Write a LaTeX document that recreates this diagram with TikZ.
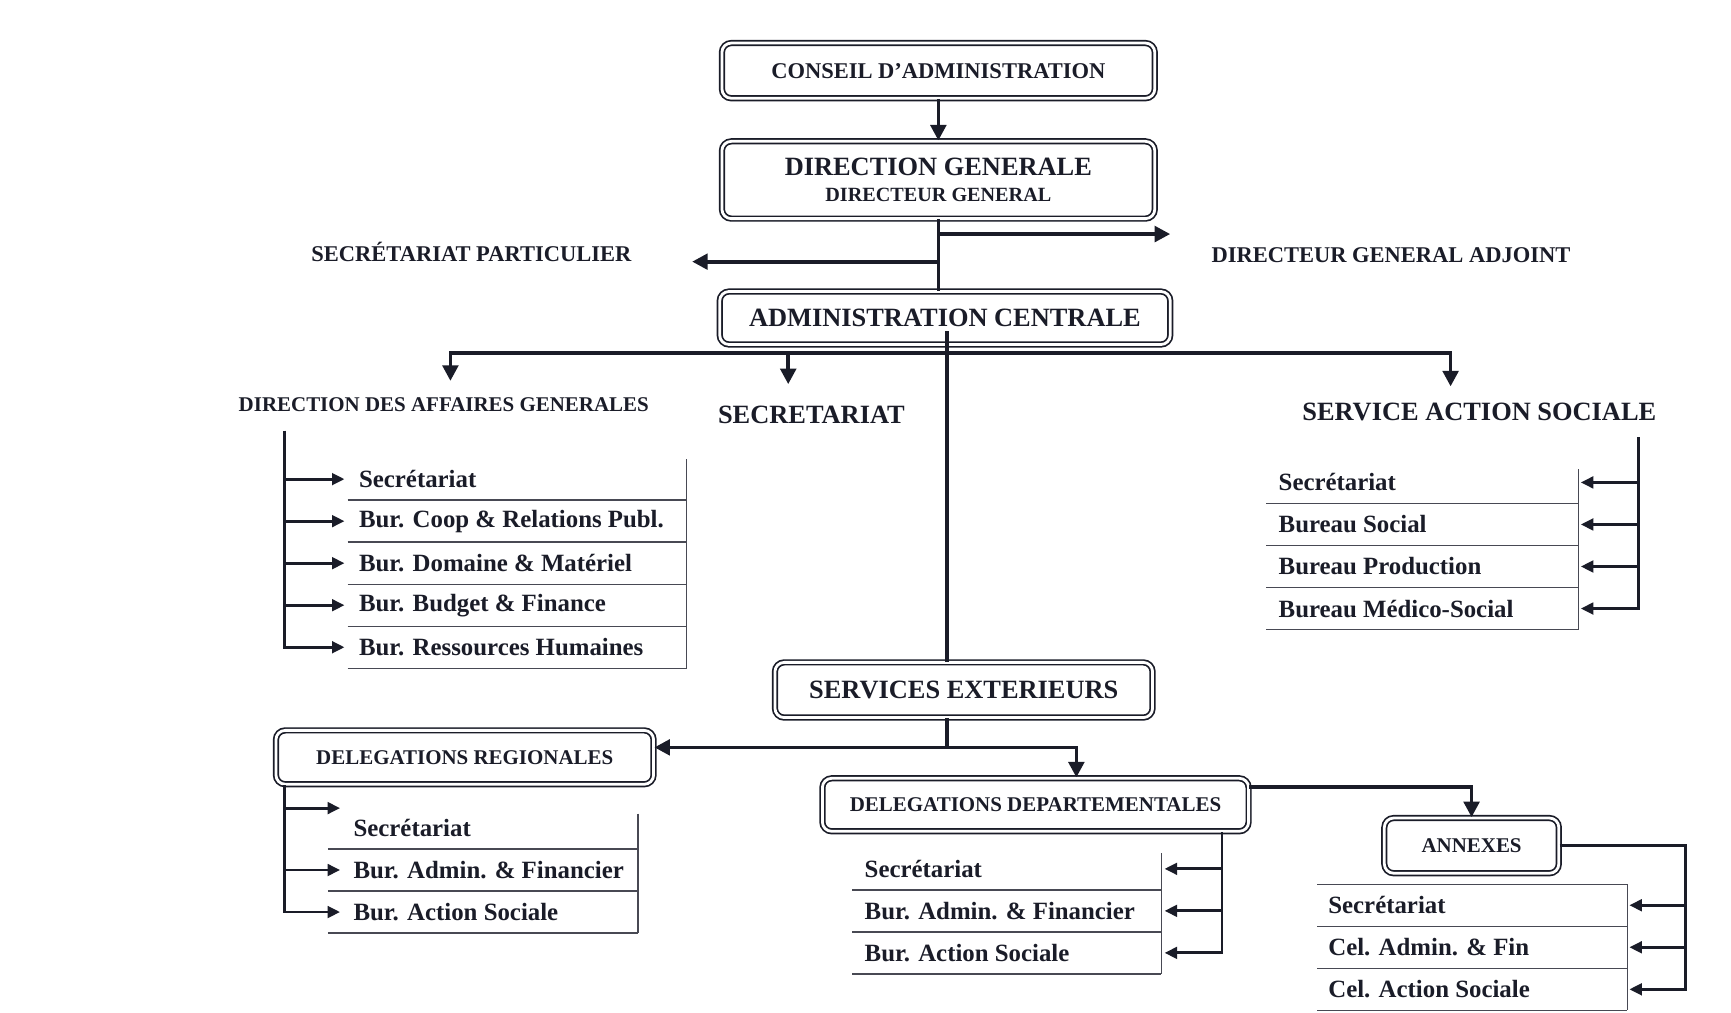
\documentclass[tikz,border=0pt]{standalone}
\usepackage{fontspec}
\setmainfont{Liberation Serif}
\usepackage{xcolor}
\usetikzlibrary{arrows.meta,positioning}
\definecolor{ink}{RGB}{26,28,40}

\begin{document}
\begin{tikzpicture}[x=0.025cm,y=-0.025cm,node distance=2.475cm,
  >={Triangle[length=10pt,width=10pt]},
  box/.style={draw=ink,double,double distance=1.8pt,line width=1.1pt,rounded corners=6pt,align=center,text=ink},
  conn/.style={draw=ink,line width=2.4pt},
  lst/.style={draw=ink,line width=1.8pt,>={Triangle[length=8pt,width=7.5pt]}},
  rule/.style={draw=ink!80,line width=0.9pt},
  tbig/.style={font=\bfseries\fontsize{17pt}{20pt}\selectfont,text=ink},
  tmid/.style={font=\bfseries\fontsize{14.5pt}{17pt}\selectfont,text=ink},
  tsmall/.style={font=\bfseries\fontsize{13.5pt}{16pt}\selectfont,text=ink},
  bureau/.style={font=\bfseries\fontsize{16pt}{19pt}\selectfont,text=ink,anchor=west,inner sep=0pt,minimum height=0.9375cm},
  under/.style={below=0pt of #1.south west,anchor=north west}]
\path[use as bounding box,fill=white] (0,0) rectangle (1568,917);

\node[box,tmid,minimum width=9.8cm,minimum height=1.25cm] (cons) at (850,64) {CONSEIL D'ADMINISTRATION};
\node[box,minimum width=9.8cm,minimum height=1.75cm] (dg) [below of=cons] {{\bfseries\fontsize{17pt}{18pt}\selectfont DIRECTION GENERALE}\\[5pt]{\bfseries\fontsize{13pt}{18pt}\selectfont DIRECTEUR GENERAL}};
\node[box,tbig,minimum width=10.2cm,minimum height=1.2cm] (ac) [below of=dg,yshift=-0.65cm,xshift=0.15cm] {ADMINISTRATION CENTRALE};
\node[box,tbig,minimum width=8.55cm,minimum height=1.25cm] (se) at (873,625) {SERVICES EXTERIEURS};
\node[box,tsmall,minimum width=8.55cm,minimum height=1.22cm] (dr) at (421,686) {DELEGATIONS REGIONALES};
\node[box,tsmall,minimum width=9.65cm,minimum height=1.2cm] (dd) at (938,729) {DELEGATIONS DEPARTEMENTALES};
\node[box,tsmall,minimum width=3.95cm,minimum height=1.25cm] (ann) at (1333,766) {ANNEXES};

\node[tmid] (sp) at (427,228) {SECRÉTARIAT PARTICULIER};
\node[tmid] (dga) at (1260,231) {DIRECTEUR GENERAL ADJOINT};
\node[tsmall] (dag) at (402,367) {DIRECTION DES AFFAIRES GENERALES};
\node[tbig] (sec) at (735,376) {SECRETARIAT};
\node[tbig] (sas) at (1340,373) {SERVICE ACTION SOCIALE};

\coordinate (tipdga) at (1060,212);
\coordinate (tipsp) at (627,237);
\coordinate (acin) at (858,300);
\coordinate (bar) at (858,320);
\coordinate (tipdag) at (408,345);
\coordinate (tipsec) at (714,348);
\coordinate (tipsas) at (1314,350);
\coordinate (jse) at (858,677);

\draw[conn,->] (cons) -- (dg);
\draw[conn] (dg.south) -- (dg.south |- ac.north);
\draw[conn,->] (dg.south |- tipdga) -- (tipdga);
\draw[conn,->] (dg.south |- tipsp) -- (tipsp);
\draw[conn] (acin) -- (acin |- se.north);
\draw[conn,->] (bar) -| (tipdag);
\draw[conn,->] (bar) -| (tipsec);
\draw[conn,->] (bar) -| (tipsas);
\draw[conn] (se.south -| jse) -- (jse);
\draw[conn,->] (jse) -- (jse -| dr.east);
\draw[conn,->] (jse) -| ([xshift=0.925cm]dd.north);
\draw[conn,->] ([yshift=0.4cm]dd.east) -| (ann.north);

\node[bureau] (d1) at (325,434) {Secrétariat};
\node[bureau,under=d1] (d2) {Bur. Coop \& Relations Publ.};
\node[bureau,under=d2] (d3) {Bur. Domaine \& Matériel};
\node[bureau,under=d3] (d4) {Bur. Budget \& Finance};
\node[bureau,under=d4] (d5) {Bur. Ressources Humaines};
\coordinate (dagS) at (258,390);
\coordinate (dagT) at (312,0);
\coordinate (dagL) at (315,0);
\coordinate (dagR) at (622,416);
\draw[lst,->] (dagS) |- (dagT |- d5);
\draw[lst,->] (dagS |- d1) -- (dagT |- d1);
\draw[lst,->] (dagS |- d2) -- (dagT |- d2);
\draw[lst,->] (dagS |- d3) -- (dagT |- d3);
\draw[lst,->] (dagS |- d4) -- (dagT |- d4);
\draw[rule] (dagR) -- (dagR |- d5.south);
\draw[rule] (dagL |- d1.south) -- (dagR |- d1.south);
\draw[rule] (dagL |- d2.south) -- (dagR |- d2.south);
\draw[rule] (dagL |- d3.south) -- (dagR |- d3.south);
\draw[rule] (dagL |- d4.south) -- (dagR |- d4.south);
\draw[rule] (dagL |- d5.south) -- (dagR |- d5.south);

\node[bureau] (s1) at (1158,437) {Secrétariat};
\node[bureau,under=s1] (s2) {Bureau Social};
\node[bureau,under=s2] (s3) {Bureau Production};
\node[bureau,under=s3] (s4) {Bureau Médico-Social};
\coordinate (sasS) at (1484,396);
\coordinate (sasT) at (1432,0);
\coordinate (sasL) at (1147,0);
\coordinate (sasR) at (1430,425);
\draw[lst,->] (sasS) |- (sasT |- s4);
\draw[lst,->] (sasS |- s1) -- (sasT |- s1);
\draw[lst,->] (sasS |- s2) -- (sasT |- s2);
\draw[lst,->] (sasS |- s3) -- (sasT |- s3);
\draw[rule] (sasR) -- (sasR |- s4.south);
\draw[rule] (sasL |- s1.south) -- (sasR |- s1.south);
\draw[rule] (sasL |- s2.south) -- (sasR |- s2.south);
\draw[rule] (sasL |- s3.south) -- (sasR |- s3.south);
\draw[rule] (sasL |- s4.south) -- (sasR |- s4.south);

\node[bureau] (r1) at (320,750) {Secrétariat};
\node[bureau,under=r1] (r2) {Bur. Admin. \& Financier};
\node[bureau,under=r2] (r3) {Bur. Action Sociale};
\coordinate (drS) at (258,0);
\coordinate (drA) at (258,732);
\coordinate (drT) at (308,0);
\coordinate (drL) at (297,0);
\coordinate (drR) at (578,737);
\draw[lst,->] (dr.south -| drS) |- (drT |- r3);
\draw[lst,->] (drA) -- (drA -| drT);
\draw[lst,->] (drS |- r2) -- (drT |- r2);
\draw[rule] (drR) -- (drR |- r3.south);
\draw[rule] (drL |- r1.south) -- (drR |- r1.south);
\draw[rule] (drL |- r2.south) -- (drR |- r2.south);
\draw[rule] (drL |- r3.south) -- (drR |- r3.south);

\node[bureau] (e1) at (783,787) {Secrétariat};
\node[bureau,under=e1] (e2) {Bur. Admin. \& Financier};
\node[bureau,under=e2] (e3) {Bur. Action Sociale};
\coordinate (ddS) at (1107,0);
\coordinate (ddT) at (1055,0);
\coordinate (ddL) at (772,0);
\coordinate (ddR) at (1052,773);
\draw[lst,->] (dd.south -| ddS) |- (ddT |- e3);
\draw[lst,->] (ddS |- e1) -- (ddT |- e1);
\draw[lst,->] (ddS |- e2) -- (ddT |- e2);
\draw[rule] (ddR) -- (ddR |- e3.south);
\draw[rule] (ddL |- e1.south) -- (ddR |- e1.south);
\draw[rule] (ddL |- e2.south) -- (ddR |- e2.south);
\draw[rule] (ddL |- e3.south) -- (ddR |- e3.south);

\node[bureau] (a1) at (1203,820) {Secrétariat};
\node[bureau,under=a1] (a2) {Cel. Admin. \& Fin};
\node[bureau,under=a2] (a3) {Cel. Action Sociale};
\coordinate (annS) at (1527,0);
\coordinate (annT) at (1476,0);
\coordinate (annL) at (1193,0);
\coordinate (annR) at (1474,0);
\draw[lst,->] (ann.east) -| (annS |- a3) -- (annT |- a3);
\draw[lst,->] (annS |- a1) -- (annT |- a1);
\draw[lst,->] (annS |- a2) -- (annT |- a2);
\draw[rule] (annL |- a1.north) -- (annR |- a1.north) -- (annR |- a3.south);
\draw[rule] (annL |- a1.south) -- (annR |- a1.south);
\draw[rule] (annL |- a2.south) -- (annR |- a2.south);
\draw[rule] (annL |- a3.south) -- (annR |- a3.south);
\end{tikzpicture}
\end{document}
